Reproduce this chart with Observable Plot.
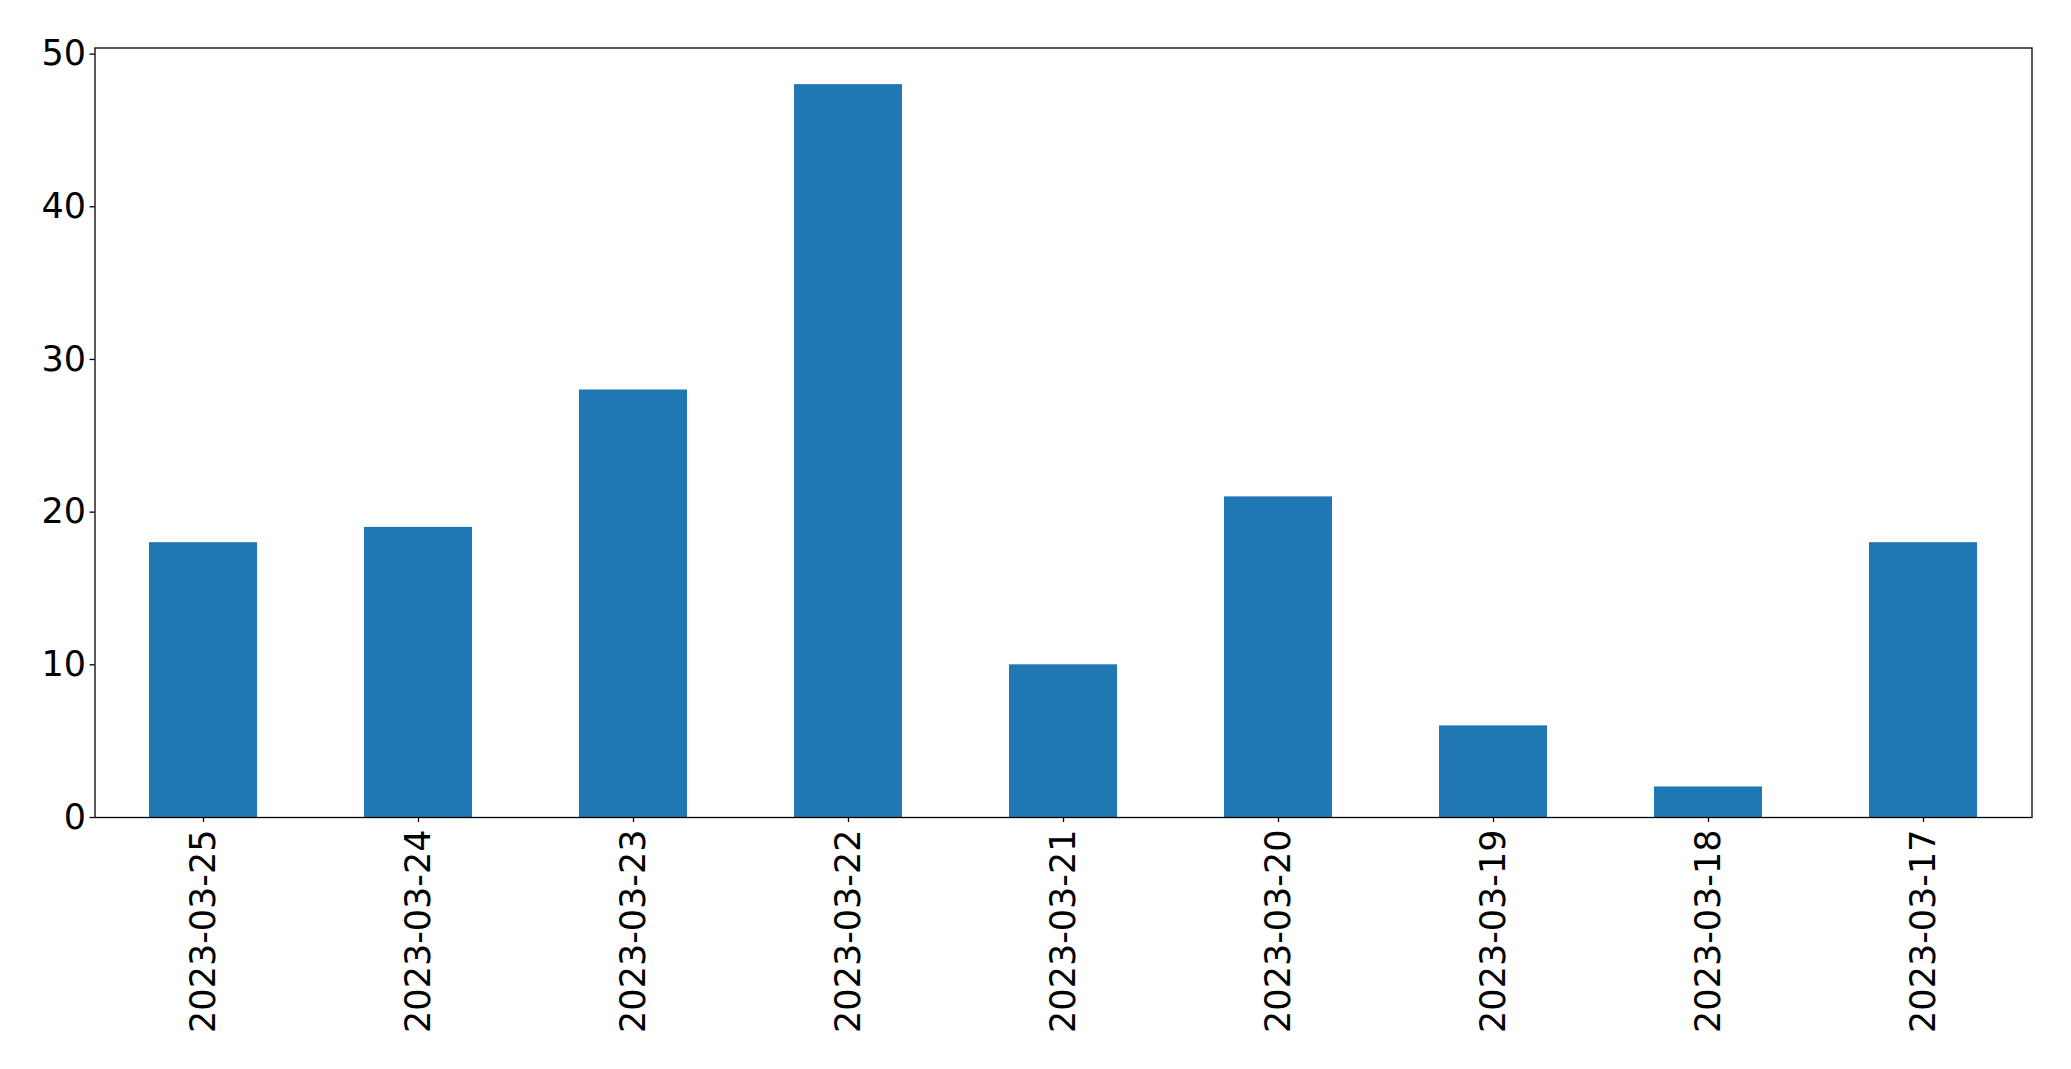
<!DOCTYPE html>
<html>
<head>
<meta charset="utf-8">
<script src="https://cdn.jsdelivr.net/npm/d3@7"></script>
<script src="https://cdn.jsdelivr.net/npm/@observablehq/plot@0.6"></script>
<style>
  html, body { margin: 0; padding: 0; background: #fff; }
  svg { display: block; }
</style>
</head>
<body>
<div id="chart"></div>
<script>
const dates = ["2023-03-25","2023-03-24","2023-03-23","2023-03-22","2023-03-21","2023-03-20","2023-03-19","2023-03-18","2023-03-17"];
const counts = [18, 19, 28, 48, 10, 21, 6, 2, 18];
const yTicks = [0, 10, 20, 30, 40, 50];

const data = dates.map((d, i) => ({date: d, count: counts[i]}));

const chart = Plot.plot({
  width: 2071,
  height: 1069,
  marginLeft: 94.5,
  marginRight: 39.5,
  marginTop: 47.5,
  marginBottom: 252,
  style: {fontFamily: "DejaVu Sans", fontSize: "35px", color: "#000", background: "#fff"},
  x: {domain: dates, paddingInner: 0.5, paddingOuter: 0.25, align: 0.5, label: null},
  y: {domain: [0, 50.4], label: null},
  marks: [
    Plot.barY(data, {x: "date", y: "count", fill: "#1f77b4"}),
    Plot.frame({stroke: "#000", strokeWidth: 1.3}),
    Plot.axisY({ticks: yTicks, tickSize: 5, tickPadding: 4, fontSize: 35, label: null, tickFormat: d => String(d), stroke: "#000", strokeWidth: 1.3}),
    Plot.axisX({tickSize: 5, tickPadding: 7, tickRotate: -90, fontSize: 35, label: null, stroke: "#000", strokeWidth: 1.3})
  ]
});
document.getElementById("chart").appendChild(chart);
</script>
</body>
</html>
